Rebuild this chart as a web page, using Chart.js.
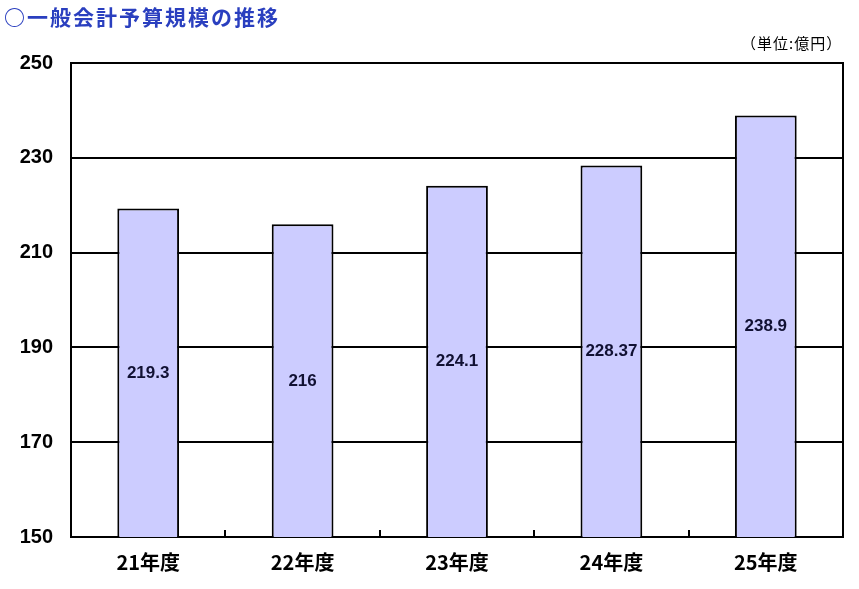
<!DOCTYPE html>
<html><head><meta charset="utf-8">
<script src="https://cdn.jsdelivr.net/npm/chart.js@4/dist/chart.umd.min.js"></script>
<style>
html,body{margin:0;padding:0;background:#fff;}
#wrap{position:relative;width:859px;height:589px;}
#title{position:absolute;left:4px;top:1px;font-family:"Noto Sans CJK JP";font-weight:bold;font-size:21px;letter-spacing:2px;color:#2a3fbf;white-space:nowrap;}
#unit{position:absolute;left:741px;top:32px;font-family:"Noto Sans CJK JP";font-size:15px;letter-spacing:1px;color:#000;white-space:nowrap;}
.vl{position:absolute;transform:translate(-50%,-50%);font-family:"Liberation Sans",Arial,sans-serif;font-weight:bold;font-size:17px;color:#111133;white-space:nowrap;}
#err{position:absolute;left:300px;top:5px;font-size:12px;color:red;}
canvas{position:absolute;left:0;top:0;}
</style></head>
<body><div id="wrap">
<canvas id="c" width="859" height="589"></canvas>
<div id="title">○一般会計予算規模の推移</div>
<div id="unit">（単位:億円）</div>
<div id="err"></div>
</div>
<script>
const categories = ["21年度","22年度","23年度","24年度","25年度"];
const budget = [219.3, 216, 224.1, 228.37, 238.9];
const valueLabels = ["219.3","216","224.1","228.37","238.9"];
const yMin = 150, yMax = 250, yStep = 20;

try {
  const chart = new Chart(document.getElementById('c'), {
    type:'bar',
    data:{labels:categories, datasets:[{data:budget, backgroundColor:'#ccccff', borderColor:'#000', borderWidth:2, barPercentage:0.8, categoryPercentage:0.5}]},
    options:{
      responsive:false, animation:false,
      layout:{padding:{left:0, top:63, right:14, bottom:0}},
      plugins:{legend:{display:false}, tooltip:{enabled:false}},
      scales:{
        x:{
          grid:{offset:true, drawOnChartArea:true, drawTicks:true, tickLength:-7, lineWidth:2,
                color:function(c){ return (c.type === 'scale' || c.index === categories.length) ? '#000' : 'rgba(0,0,0,0)'; },
                tickColor:'#000'},
          border:{display:true, color:'#000', width:2},
          ticks:{color:'#000', padding:20, font:{family:'"Noto Sans CJK JP"', weight:'bold', size:20}},
          afterFit(s){ s.height = 52; }
        },
        y:{
          min:yMin, max:yMax,
          grid:{color:'#000', lineWidth:2, drawTicks:false, tickLength:0},
          border:{display:true, color:'#000', width:2},
          ticks:{stepSize:yStep, color:'#000', padding:18, font:{family:'"Liberation Sans", Arial', weight:'bold', size:20}},
          afterFit(s){ s.width = 71; }
        },
        yR:{
          position:'right', display:true, min:yMin, max:yMax,
          grid:{drawOnChartArea:false, drawTicks:false, tickLength:0, color:'#000', lineWidth:2},
          border:{display:true, color:'#000', width:2},
          ticks:{display:false},
          afterFit(s){ s.width = 2; }
        }
      }
    }
  });
  const xs = chart.scales.x, ys = chart.scales.y;
  const wrap = document.getElementById('wrap');
  budget.forEach(function(v, i){
    const d = document.createElement('div');
    d.className = 'vl';
    d.textContent = valueLabels[i];
    d.style.left = xs.getPixelForValue(i) + 'px';
    d.style.top = ((ys.getPixelForValue(v) + ys.getPixelForValue(yMin)) / 2) + 'px';
    wrap.appendChild(d);
  });
} catch(e) {
  document.getElementById('err').textContent = String(e);
}
</script>
</body></html>
